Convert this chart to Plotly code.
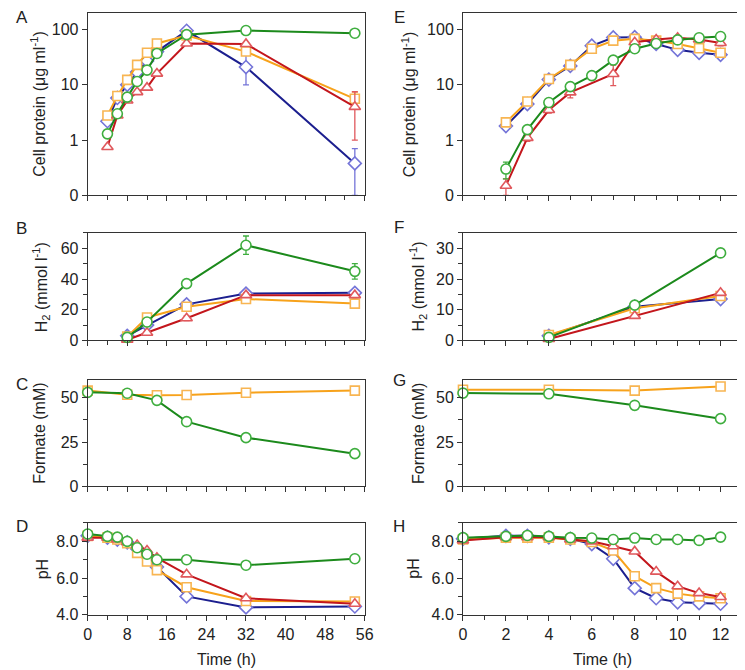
import plotly.graph_objects as go
from plotly.subplots import make_subplots

# ---------------- data ----------------
# Panel A (cell protein, long time course)
A_t = [4, 6, 8, 10, 12, 14, 20, 32, 54]
A_blue = [2.2, 5.8, 10, 17, 27, 40, 95, 21, 0.38]
A_orange = [2.8, 6.3, 12.3, 23, 38, 56, 78, 40, 5.6]
A_red = [0.75, 2.8, 5.2, 7.4, 8.9, 16, 56, 55, 4.0]
A_green = [1.3, 3.0, 6.0, 11.5, 18.5, 37, 81, 96, 86]
A_blue_ep = [0, 0, 0, 0, 0, 0, 0, 14, 0.32]
A_blue_em = [0, 0, 0, 0, 0, 0, 0, 11, 0.28]
A_orange_e = [0, 0, 0, 0, 0, 0, 0, 0, 1.8]
A_red_ep = [0, 0, 0, 0, 0, 0, 0, 0, 3.5]
A_red_em = [0, 0, 0, 0, 0, 0, 0, 0, 3.0]

# Panel E (cell protein, short time course)
E_t = [2, 3, 4, 5, 6, 7, 8, 9, 10, 11, 12]
E_blue = [1.8, 4.5, 12.5, 22, 51, 72, 73, 55, 43, 38, 35]
E_orange = [2.1, 5.0, 12.8, 23, 45, 63, 68, 63, 55, 46, 38]
E_green = [0.30, 1.55, 4.8, 9.3, 14.7, 28, 45, 56, 65, 71, 75]
E_red_t = [2, 3, 4, 5, 7, 8, 9, 10, 11, 12]
E_red = [0.15, 1.1, 3.5, 7.3, 15.7, 59, 66, 71, 66, 57]
E_blue_em = [0.25, 0, 0, 0, 0, 0, 0, 0, 0, 0, 0]
E_green_e = [0.1, 0, 0, 0, 1.5, 0, 0, 0, 0, 0, 0]
E_red_ep = [0.05, 0.15, 0.4, 1.5, 7, 0, 0, 0, 0, 6]
E_red_em = [0.05, 0.15, 0.4, 1.5, 6, 0, 0, 0, 0, 6]

# Panel B (H2, long)
B_t = [8, 12, 20, 32, 54]
B_blue = [3, 10, 23.5, 30.5, 31]
B_orange = [2.5, 15, 22, 27, 24]
B_red = [0.5, 5, 14.5, 29.5, 29.5]
B_green = [2, 12, 37, 62, 45]
B_orange_e = [0, 1.5, 1.5, 2, 3]
B_red_e = [0, 1, 1.5, 1.5, 1]
B_green_e = [0, 1.5, 1.5, 6, 5]

# Panel F (H2, short)
F_t = [4, 8, 12]
F_blue = [1.5, 11, 13.5]
F_orange = [1.8, 10.5, 14.5]
F_red = [0.5, 8, 15.5]
F_green = [1, 11.5, 28.5]

# Panel C (formate, long)
C_t = [0, 8, 14, 20, 32, 54]
C_orange = [54, 51.7, 51.4, 51.5, 52.8, 54]
C_green = [53, 52.5, 48.5, 36.5, 27.5, 18.5]

# Panel G (formate, short)
G_t = [0, 4, 8, 12]
G_orange = [54.5, 54.5, 54, 56.3]
G_green = [52.6, 52.2, 45.7, 38.2]

# Panel D (pH, long)
D_t = [0, 4, 6, 8, 10, 12, 14, 20, 32, 54]
D_blue = [8.3, 8.2, 8.1, 7.95, 7.6, 7.2, 6.6, 5.0, 4.4, 4.45]
D_orange = [8.3, 8.2, 8.1, 7.9, 7.37, 6.9, 6.43, 5.5, 4.75, 4.72]
D_red = [8.2, 8.2, 8.1, 7.95, 7.8, 7.5, 7.1, 6.2, 4.9, 4.6]
D_green = [8.4, 8.27, 8.23, 8.0, 7.65, 7.3, 7.0, 7.0, 6.7, 7.05]

# Panel H (pH, short)
H_t = [0, 2, 3, 4, 5, 6, 7, 8, 9, 10, 11, 12]
H_blue = [8.14, 8.3, 8.3, 8.22, 8.14, 7.85, 7.05, 5.45, 4.9, 4.68, 4.63, 4.6]
H_orange = [8.1, 8.2, 8.2, 8.2, 8.1, 7.96, 7.5, 6.1, 5.45, 5.15, 5.0, 4.9]
H_red = [8.05, 8.22, 8.22, 8.22, 8.1, 8.0, 7.73, 7.45, 6.35, 5.55, 5.18, 4.97]
H_green = [8.2, 8.27, 8.32, 8.27, 8.2, 8.18, 8.1, 8.18, 8.1, 8.1, 8.05, 8.23]

LEFT_XTICKS = [0, 8, 16, 24, 32, 40, 48, 56]
RIGHT_XTICKS = [0, 2, 4, 6, 8, 10, 12]
PANEL_LETTERS = ["A", "B", "C", "D", "E", "F", "G", "H"]
Y_TITLES = ["Cell protein (μg ml<sup>-1</sup>)", "H<sub>2</sub> (mmol l<sup>-1</sup>)",
            "Formate (mM)", "pH"]

# ---------------- styles ----------------
FONT = "Liberation Sans, Arial, sans-serif"
STY = {
    "blue": dict(line="#1c1f8f", edge="#7474d8", symbol="diamond", size=10),
    "orange": dict(line="#f7a21b", edge="#f8b552", symbol="square", size=9),
    "red": dict(line="#c3161c", edge="#e0585c", symbol="triangle-up", size=10),
    "green": dict(line="#1c8a1c", edge="#3fae3f", symbol="circle", size=10),
}

fig = make_subplots(rows=4, cols=2)


def add(row, col, x, y, key, ep=None, em=None):
    s = STY[key]
    err = None
    if ep is not None:
        err = dict(type="data", array=ep, arrayminus=em if em is not None else ep,
                   color=s["edge"], thickness=1.3, width=3, visible=True)
    fig.add_trace(go.Scatter(
        x=x, y=y, mode="lines+markers",
        line=dict(color=s["line"], width=2),
        marker=dict(symbol=s["symbol"], size=s["size"], color="white",
                    line=dict(color=s["edge"], width=1.6)),
        error_y=err, showlegend=False, cliponaxis=False), row=row, col=col)


# A
add(1, 1, A_t, A_blue, "blue", A_blue_ep, A_blue_em)
add(1, 1, A_t, A_orange, "orange", A_orange_e)
add(1, 1, A_t, A_red, "red", A_red_ep, A_red_em)
add(1, 1, A_t, A_green, "green")
# E
add(1, 2, E_t, E_blue, "blue", [0] * len(E_t), E_blue_em)
add(1, 2, E_t, E_orange, "orange")
add(1, 2, E_red_t, E_red, "red", E_red_ep, E_red_em)
add(1, 2, E_t, E_green, "green", E_green_e)
# B
add(2, 1, B_t, B_blue, "blue")
add(2, 1, B_t, B_orange, "orange", B_orange_e)
add(2, 1, B_t, B_red, "red", B_red_e)
add(2, 1, B_t, B_green, "green", B_green_e)
# F
add(2, 2, F_t, F_blue, "blue")
add(2, 2, F_t, F_orange, "orange")
add(2, 2, F_t, F_red, "red")
add(2, 2, F_t, F_green, "green")
# C
add(3, 1, C_t, C_orange, "orange")
add(3, 1, C_t, C_green, "green")
# G
add(3, 2, G_t, G_orange, "orange")
add(3, 2, G_t, G_green, "green")
# D
add(4, 1, D_t, D_blue, "blue")
add(4, 1, D_t, D_orange, "orange")
add(4, 1, D_t, D_red, "red")
add(4, 1, D_t, D_green, "green")
# H
add(4, 2, H_t, H_blue, "blue")
add(4, 2, H_t, H_orange, "orange")
add(4, 2, H_t, H_red, "red")
add(4, 2, H_t, H_green, "green")

W, Hh = 745, 670
col_px = [(77, 359), (459, 743)]
row_px = [(5, 190), (228, 337), (377, 485), (522, 615)]

axcommon = dict(showgrid=False, zeroline=False, showline=True, linecolor="#333",
                linewidth=1, mirror=True, ticks="outside", ticklen=5, tickwidth=1,
                tickcolor="#333", tickfont=dict(family=FONT, size=16, color="#222"))

for r in range(4):
    for c in range(2):
        idx = r * 2 + c + 1
        xa = "xaxis" if idx == 1 else f"xaxis{idx}"
        ya = "yaxis" if idx == 1 else f"yaxis{idx}"
        x0, x1 = col_px[c]
        y0, y1 = row_px[r]
        xd = dict(axcommon, domain=[x0 / W, x1 / W])
        if c == 0:
            xd.update(range=[0, 56], tickvals=LEFT_XTICKS,
                      minor=dict(dtick=4, tick0=0, ticks="outside", ticklen=4,
                                 tickcolor="#333"))
        else:
            xd.update(range=[0, 13], tickvals=RIGHT_XTICKS,
                      minor=dict(dtick=1, tick0=0, ticks="outside", ticklen=4,
                                 tickcolor="#333"))
        xd["showticklabels"] = (r == 3)
        yd = dict(axcommon, domain=[1 - y1 / Hh, 1 - y0 / Hh])
        if r == 0:
            yd.update(type="log", range=[-1, 2.301],
                      tickvals=[0.1, 1, 10, 100], ticktext=["0", "1", "10", "100"])
        elif r == 1:
            if c == 0:
                yd.update(range=[0, 70], tickvals=[0, 20, 40, 60],
                          minor=dict(dtick=10, ticks="outside", ticklen=4, tickcolor="#333"))
            else:
                yd.update(range=[0, 35], tickvals=[0, 10, 20, 30],
                          minor=dict(dtick=5, ticks="outside", ticklen=4, tickcolor="#333"))
        elif r == 2:
            yd.update(range=[0, 60], tickvals=[0, 25, 50],
                      minor=dict(dtick=12.5, ticks="outside", ticklen=4, tickcolor="#333"))
        else:
            yd.update(range=[4, 9], tickvals=[4, 6, 8], ticktext=["4.0", "6.0", "8.0"],
                      minor=dict(dtick=1, ticks="outside", ticklen=4, tickcolor="#333"))
        fig.layout[xa].update(xd)
        fig.layout[ya].update(yd)

annotations = []
title_x = [[27, 29, 28, 31], [404, 413, 413, 409]]
letter_pos = [[(10, 10), (10, 223), (10, 382), (10, 526)],
              [(394, 10), (394, 222), (394, 378), (394, 526)]]
for c in range(2):
    for r in range(4):
        y0, y1 = row_px[r]
        annotations.append(dict(
            text=Y_TITLES[r], textangle=-90, x=title_x[c][r] / W, y=1 - (y0 + y1) / 2 / Hh,
            xref="paper", yref="paper", xanchor="center", yanchor="middle",
            showarrow=False, font=dict(family=FONT, size=16, color="#222")))
        lx, ly = letter_pos[c][r]
        annotations.append(dict(
            text=PANEL_LETTERS[c * 4 + r], x=lx / W, y=1 - ly / Hh,
            xref="paper", yref="paper", xanchor="center", yanchor="middle",
            showarrow=False, font=dict(family=FONT, size=17, color="#222")))
    annotations.append(dict(
        text="Time (h)", x=(col_px[c][0] + col_px[c][1]) / 2 / W, y=1 - 660 / Hh,
        xref="paper", yref="paper", xanchor="center", yanchor="middle",
        showarrow=False, font=dict(family=FONT, size=16, color="#222")))

fig.update_layout(width=W, height=Hh, margin=dict(l=0, r=0, t=0, b=0),
                  paper_bgcolor="white", plot_bgcolor="white",
                  annotations=annotations, font=dict(family=FONT))

fig.write_html("out.html")
